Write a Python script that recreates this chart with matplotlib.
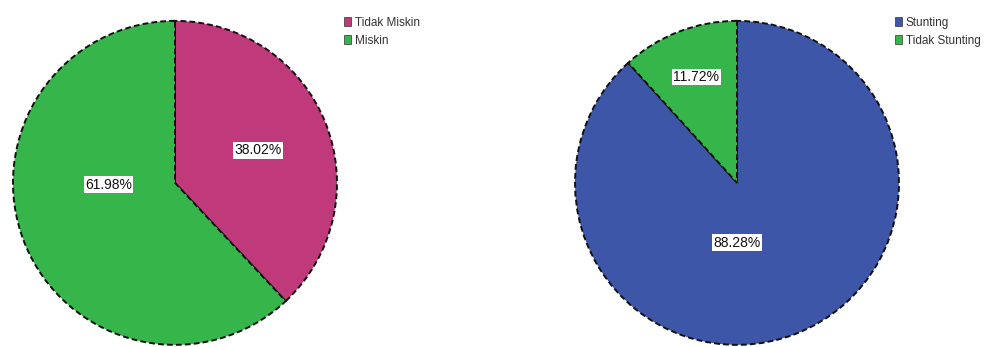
import numpy as np
import matplotlib.pyplot as plt
from matplotlib.patches import Patch

plt.rcParams['font.family'] = ['Liberation Sans', 'DejaVu Sans']

kemiskinan_labels = ['Tidak Miskin', 'Miskin']
kemiskinan_values = [38.02, 61.98]
stunting_labels = ['Stunting', 'Tidak Stunting']
stunting_values = [88.28, 11.72]

magenta = '#c0397b'
green = '#36b64a'
blue = '#3e56a8'


def draw_pie(ax, values, labels, colors, label_r, label_turn, legend_x):
    wedges, _, autotexts = ax.pie(
        values, colors=colors, startangle=90, counterclock=False,
        autopct='%.2f%%', radius=1,
        wedgeprops=dict(edgecolor='#111111', linewidth=1.4, linestyle=(0, (3, 1.6))),
        textprops=dict(fontsize=10, color='#111111'))
    # SPSS puts the percentage boxes a bit off the wedge middle
    for w, t, r, turn in zip(wedges, autotexts, label_r, label_turn):
        mid = np.deg2rad((w.theta1 + w.theta2) / 2 + turn)
        t.set_position((r * np.cos(mid), r * np.sin(mid)))
        t.set_bbox(dict(facecolor='white', edgecolor='none', pad=1.0))
    ax.set_xlim(-1.0, 1.0)
    ax.set_ylim(-1.0, 1.0)
    ax.set_aspect('equal')
    ax.axis('off')
    handles = [Patch(facecolor=c, edgecolor='#333333', linewidth=0.5) for c in colors]
    ax.figure.legend(handles, labels, loc='upper left', bbox_to_anchor=(legend_x, 0.952),
                     frameon=False, fontsize=8.5, handlelength=0.6, handleheight=0.8,
                     handletextpad=0.3, labelspacing=0.5, borderpad=0, borderaxespad=0,
                     labelcolor='#333333')


fig = plt.figure(figsize=(10, 3.47), dpi=100)
ax1 = fig.add_axes([0.013, 0.006, 0.324, 0.934])
ax2 = fig.add_axes([0.575, 0.006, 0.324, 0.934])

draw_pie(ax1, kemiskinan_values, kemiskinan_labels, [magenta, green],
         [0.55, 0.41], [0, -20], 0.344)
draw_pie(ax2, stunting_values, stunting_labels, [blue, green],
         [0.37, 0.70], [-21, 0], 0.895)

fig.savefig('out.png', dpi=100, facecolor='white')
